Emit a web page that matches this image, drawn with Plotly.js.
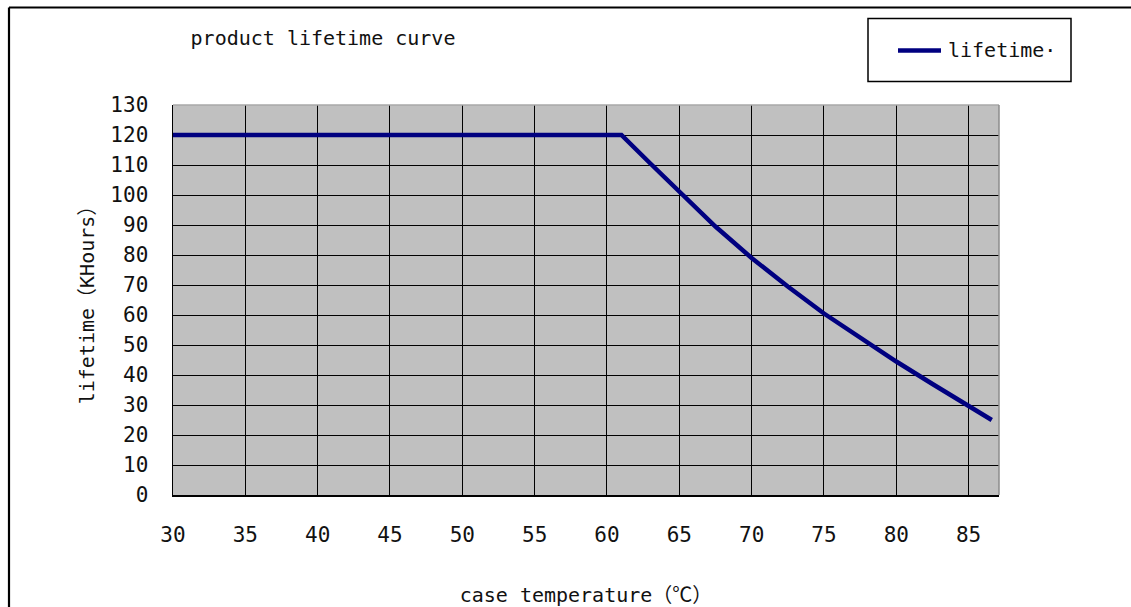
<!DOCTYPE html>
<html>
<head>
<meta charset="utf-8">
<script src="https://cdn.plot.ly/plotly-3.0.1.min.js"></script>
<style>
  html, body { margin: 0; padding: 0; background: #fff; }
  #chart { width: 1131px; height: 607px; }
</style>
</head>
<body>
<div id="chart"></div>
<script>
// ---- data ----
const temperature = [30, 61, 63, 65, 67.5, 70, 72.5, 75, 77.5, 80, 82.5, 85, 86.6];
const lifetime    = [120, 120, 110.5, 101, 89.5, 79, 69.5, 60.5, 52.5, 44.5, 37, 29.5, 25];
const xTicks = [30, 35, 40, 45, 50, 55, 60, 65, 70, 75, 80, 85];
const yTicks = [0, 10, 20, 30, 40, 50, 60, 70, 80, 90, 100, 110, 120, 130];
const seriesName = 'lifetime·';
const chartTitle = 'product lifetime curve';
const xTitle = 'case temperature（℃）';
const yTitle = 'lifetime（KHours）';

// ---- layout geometry (pixels) ----
const W = 1131, H = 607;
const L = 173, R = W - 999, T = 105, B = H - 495;
const PW = W - L - R, PH = H - T - B;
const px = x => (x - L) / PW;          // pixel x -> paper x
const py = y => (H - B - y) / PH;      // pixel y -> paper y

const FONT = '"DejaVu Sans Mono", "Noto Sans CJK SC", monospace';
const NAVY = '#000080';
const TXT = '#111';

const trace = {
  x: temperature, y: lifetime, type: 'scatter', mode: 'lines',
  name: seriesName, showlegend: false,
  line: { color: NAVY, width: 4.5 }
};

const layout = {
  width: W, height: H,
  margin: { l: L, r: R, t: T, b: B, pad: 0 },
  paper_bgcolor: '#ffffff',
  plot_bgcolor: '#c0c0c0',
  font: { family: FONT, size: 20, color: TXT },
  title: {
    text: chartTitle, font: { family: FONT, size: 20, color: TXT },
    xref: 'paper', x: px(323), xanchor: 'center',
    yref: 'container', y: 1 - 38 / H, yanchor: 'middle'
  },
  xaxis: {
    range: [30, 87.1], tickvals: xTicks, ticktext: xTicks.map(String),
    showgrid: true, gridcolor: '#000', gridwidth: 1,
    showline: true, linecolor: '#000', linewidth: 1.5,
    zeroline: false, ticks: '', ticklabelstandoff: 20,
    tickfont: { family: FONT, size: 21, color: TXT },
    title: { text: xTitle, font: { family: FONT, size: 20, color: TXT }, standoff: 47 }
  },
  yaxis: {
    range: [0, 130], tickvals: yTicks, ticktext: yTicks.map(String),
    showgrid: true, gridcolor: '#000', gridwidth: 1,
    showline: true, linecolor: '#000', linewidth: 1.5,
    zeroline: false, ticks: '', ticklabelstandoff: 19,
    tickfont: { family: FONT, size: 21, color: TXT },
    title: { text: yTitle, font: { family: FONT, size: 20, color: TXT }, standoff: 10 }
  },
  shapes: [
    // plot frame top / right (gray)
    { type: 'line', xref: 'paper', yref: 'paper', x0: 0, x1: 1, y0: 1, y1: 1,
      line: { color: '#a8a8a8', width: 1.5 }, layer: 'above' },
    { type: 'line', xref: 'paper', yref: 'paper', x0: 1, x1: 1, y0: 0, y1: 1,
      line: { color: '#8c8c8c', width: 1.5 }, layer: 'above' },
    // outer image border (top and left)
    { type: 'line', xref: 'paper', yref: 'paper', x0: px(9), x1: px(W + 5), y0: py(7.5), y1: py(7.5),
      line: { color: '#000', width: 2.2 } },
    { type: 'line', xref: 'paper', yref: 'paper', x0: px(9), x1: px(9), y0: py(7.5), y1: py(H + 5),
      line: { color: '#000', width: 2.2 } },
    // legend box
    { type: 'rect', xref: 'paper', yref: 'paper', x0: px(868), x1: px(1071), y0: py(18.5), y1: py(81.5),
      line: { color: '#000', width: 1.5 }, fillcolor: '#fff' },
    // legend line sample
    { type: 'line', xref: 'paper', yref: 'paper', x0: px(898), x1: px(941), y0: py(50.5), y1: py(50.5),
      line: { color: NAVY, width: 4.5 } }
  ],
  annotations: [
    { text: seriesName, xref: 'paper', yref: 'paper', x: px(946), y: py(50),
      xanchor: 'left', yanchor: 'middle', showarrow: false,
      font: { family: FONT, size: 20, color: TXT } }
  ]
};

Plotly.newPlot('chart', [trace], layout, { displayModeBar: false, staticPlot: true });
</script>
</body>
</html>
